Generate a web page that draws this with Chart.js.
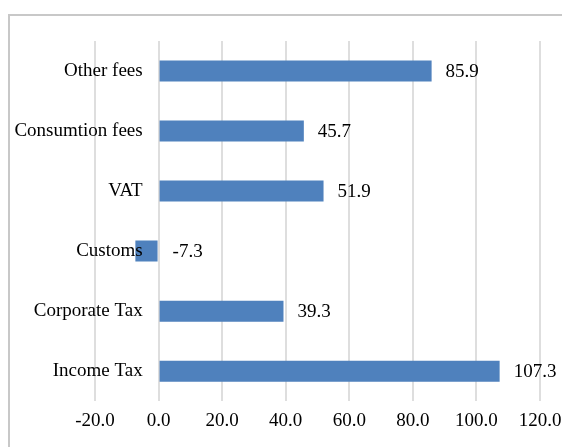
<!DOCTYPE html>
<html>
<head>
<meta charset="utf-8">
<script src="https://cdn.jsdelivr.net/npm/chart.js@4.4.1/dist/chart.umd.min.js"></script>
<style>
  html, body { margin: 0; padding: 0; background: #fff; overflow: hidden; }
  #wrap { position: relative; width: 562px; height: 447px; }
  #frame { position: absolute; left: 8px; top: 14px; width: 700px; height: 700px; border: 2px solid #c8c8c8; box-sizing: border-box; }
  #c { position: absolute; left: 0; top: 0; }
</style>
</head>
<body>
<div id="wrap">
  <div id="frame"></div>
  <canvas id="c" width="562" height="447"></canvas>
</div>
<script>
const categories = ["Other fees", "Consumtion fees", "VAT", "Customs", "Corporate Tax", "Income Tax"];
const values = [85.9, 45.7, 51.9, -7.3, 39.3, 107.3];
const xTicks = [-20, 0, 20, 40, 60, 80, 100, 120];

const FONT = { family: "'Liberation Serif', 'Times New Roman', serif", size: 19 };

const valueLabels = {
  id: 'valueLabels',
  afterDatasetsDraw(chart) {
    const ctx = chart.ctx;
    const meta = chart.getDatasetMeta(0);
    const xs = chart.scales.x;
    const zero = xs.getPixelForValue(0);
    ctx.save();
    ctx.font = FONT.size + "px " + FONT.family;
    ctx.fillStyle = '#000';
    ctx.textAlign = 'left';
    ctx.textBaseline = 'middle';
    meta.data.forEach((bar, i) => {
      const v = chart.data.datasets[0].data[i];
      const end = Math.max(bar.x, zero);
      ctx.fillText(v.toFixed(1), end + 14, bar.y + 1);
    });
    ctx.restore();
  }
};

new Chart(document.getElementById('c'), {
  type: 'bar',
  data: {
    labels: categories,
    datasets: [{
      data: values,
      backgroundColor: '#4f81bd',
      borderWidth: 0,
      barPercentage: 0.35,
      categoryPercentage: 1
    }]
  },
  options: {
    indexAxis: 'y',
    responsive: false,
    animation: false,
    layout: { padding: { left: 95, right: 22, top: 41, bottom: 15 } },
    plugins: { legend: { display: false }, tooltip: { enabled: false } },
    scales: {
      x: {
        min: xTicks[0],
        max: xTicks[xTicks.length - 1],
        afterBuildTicks: (s) => { s.ticks = xTicks.map(v => ({ value: v })); },
        grid: { color: '#dedede', lineWidth: 2, drawTicks: true, tickLength: 8, tickColor: 'rgba(0,0,0,0)' },
        border: { display: false },
        ticks: {
          color: '#000',
          font: FONT,
          padding: 0,
          maxRotation: 0,
          callback: (v) => Number(v).toFixed(1)
        }
      },
      y: {
        position: { x: -5 },
        grid: { display: false, drawTicks: false },
        border: { display: false },
        ticks: { color: '#000', font: FONT, padding: 0, z: 1 }
      }
    }
  },
  plugins: [valueLabels]
});
</script>
</body>
</html>
